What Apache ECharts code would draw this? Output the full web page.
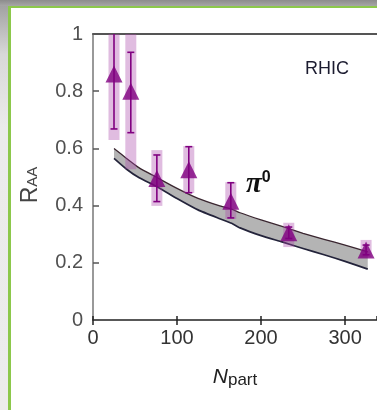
<!DOCTYPE html>
<html>
<head>
<meta charset="utf-8">
<script src="https://cdn.jsdelivr.net/npm/echarts@6/dist/echarts.min.js"></script>
<style>
  html, body { margin: 0; padding: 0; width: 377px; height: 410px; overflow: hidden; background: #ececec; }
  #topStrip { position: absolute; left: 0; top: 0; width: 377px; height: 6px; background: linear-gradient(#8c8c8c, #a6a6a6); }
  #sideStrip { position: absolute; left: 0; top: 6px; width: 8px; height: 404px; background: linear-gradient(#a2a2a2, #d8d8d8 12%, #ebebeb 30%, #ececec); }
  #frame { position: absolute; left: 8px; top: 6px; right: 0; bottom: 0; border-left: 3px solid #8cc84b; border-top: 2px solid #8cc84b; background: #fff; }
  #chart { position: absolute; left: 0; top: 0; width: 377px; height: 410px; }
</style>
</head>
<body>
<div id="topStrip"></div>
<div id="sideStrip"></div>
<div id="frame"></div>
<div id="chart"></div>
<script>
// theory band (upper / lower edge)
const bandN    = [25, 40, 55, 75, 100, 125, 150, 165, 175, 200, 225, 250, 275, 300, 327];
const bandLow  = [0.565, 0.527, 0.497, 0.468, 0.425, 0.385, 0.355, 0.338, 0.322, 0.295, 0.273, 0.25, 0.228, 0.205, 0.178];
const bandHigh = [0.600, 0.565, 0.532, 0.500, 0.460, 0.425, 0.400, 0.388, 0.375, 0.350, 0.327, 0.303, 0.282, 0.262, 0.238];

// pi0 measurements
const pionN    = [25, 45, 76, 114, 164, 233, 325];
const pionRaa  = [0.86, 0.80, 0.495, 0.525, 0.415, 0.305, 0.245];
const statLow  = [0.668, 0.655, 0.414, 0.445, 0.357, 0.285, 0.228];
const statHigh = [1.04, 0.936, 0.577, 0.606, 0.48, 0.325, 0.262];
const sysLow   = [0.629, 0.527, 0.399, 0.444, 0.353, 0.255, 0.22];
const sysHigh  = [1.04, 1.04, 0.594, 0.608, 0.482, 0.340, 0.28];

const purple = '#800080'
const font = 'Liberation Sans, Arial, sans-serif'

const chart = echarts.init(document.getElementById('chart'))

// clip a rect to the grid
function clipToGrid(rect, params) {
  return echarts.graphic.clipRectByRect(rect, {
    x: params.coordSys.x, y: params.coordSys.y,
    width: params.coordSys.width, height: params.coordSys.height
  })
}

const xCommon = { type: 'value', min: 0, max: 338, interval: 100 }

const option = {
  animation: false,
  grid: { left: 93, top: 34, right: 0, bottom: 90, outerBoundsMode: 'none', containLabel: false },
  xAxis: [
    {
      ...xCommon,
      position: 'bottom',
      name: '{n|N}{s|part}',
      nameLocation: 'middle',
      nameGap: 47,
      nameMoveOverlap: false,
      nameTextStyle: {
        rich: {
          n: { fontFamily: font, fontStyle: 'italic', fontSize: 21, color: '#222', padding: [0, 0, 6, 0] },
          s: { fontFamily: font, fontSize: 17, color: '#222' }
        }
      },
      axisLine: { show: true, onZero: false, lineStyle: { color: '#222', width: 1.5 } },
      axisTick: { show: true, inside: false, length: 5, lineStyle: { color: '#222', width: 1.5 } },
      axisLabel: { fontFamily: font, fontSize: 20, color: '#333', margin: 8, showMaxLabel: false },
      splitLine: { show: false }
    },
    {
      ...xCommon,
      position: 'top',
      axisLine: { show: true, onZero: false, lineStyle: { color: '#555', width: 2 } },
      axisTick: { show: false },
      axisLabel: { show: false },
      splitLine: { show: false }
    },
    {
      ...xCommon,
      position: 'bottom',
      offset: 0,
      axisLine: { show: false },
      axisTick: { show: true, inside: true, length: 4, lineStyle: { color: '#222', width: 1.5 } },
      axisLabel: { show: false },
      splitLine: { show: false }
    }
  ],
  yAxis: {
    type: 'value',
    min: 0, max: 1, interval: 0.2,
    name: '{r|R}{s|AA}',
    nameLocation: 'middle',
    nameGap: 46,
    nameMoveOverlap: false,
    nameTextStyle: {
      rich: {
        r: { fontFamily: font, fontSize: 23, color: '#444', padding: [0, 0, 5, 0] },
        s: { fontFamily: font, fontSize: 15, color: '#444', padding: [0, 16, 0, 0] }
      }
    },
    axisLine: { show: true, onZero: false, lineStyle: { color: '#777', width: 1.5 } },
    axisTick: { show: true, inside: true, length: 6, lineStyle: { color: '#555', width: 1.5 } },
    axisLabel: { fontFamily: font, fontSize: 20, color: '#505050', margin: 10 },
    splitLine: { show: false }
  },
  series: [
    {
      // theory band drawn as one polygon through the axis scales
      type: 'custom',
      data: [0],
      renderItem(params, api) {
        const upper = bandN.map((n, i) => api.coord([n, bandHigh[i]]))
        const lower = bandN.map((n, i) => api.coord([n, bandLow[i]]))
        return {
          type: 'group',
          children: [
            { type: 'polygon', shape: { points: upper.concat(lower.slice().reverse()) }, style: { fill: '#b4b4b4' } },
            { type: 'polyline', shape: { points: upper, smooth: 0.15 }, style: { stroke: '#3a2630', lineWidth: 1.3, fill: null } },
            { type: 'polyline', shape: { points: lower, smooth: 0.15 }, style: { stroke: '#23233a', lineWidth: 1.7, fill: null } }
          ]
        }
      },
      z: 2
    },
    {
      // systematic boxes
      type: 'custom',
      data: pionN.map((n, i) => [n, sysLow[i], sysHigh[i]]),
      renderItem(params, api) {
        const top = api.coord([api.value(0), api.value(2)])
        const bot = api.coord([api.value(0), api.value(1)])
        const rect = clipToGrid({ x: top[0] - 5.5, y: top[1], width: 11, height: bot[1] - top[1] }, params)
        return rect && { type: 'rect', shape: rect, style: { fill: 'rgba(170, 70, 170, 0.36)' } }
      },
      z: 3
    },
    {
      // statistical error bars
      type: 'custom',
      data: pionN.map((n, i) => [n, statLow[i], statHigh[i]]),
      renderItem(params, api) {
        const top = api.coord([api.value(0), api.value(2)])
        const bot = api.coord([api.value(0), api.value(1)])
        const yTop = Math.max(top[1], params.coordSys.y)
        const style = { stroke: purple, lineWidth: 1.6 }
        const children = [
          { type: 'line', shape: { x1: top[0], y1: yTop, x2: bot[0], y2: bot[1] }, style },
          { type: 'line', shape: { x1: bot[0] - 3.5, y1: bot[1], x2: bot[0] + 3.5, y2: bot[1] }, style }
        ]
        if (top[1] >= params.coordSys.y) {
          children.push({ type: 'line', shape: { x1: top[0] - 3.5, y1: top[1], x2: top[0] + 3.5, y2: top[1] }, style })
        }
        return { type: 'group', children }
      },
      z: 4
    },
    {
      type: 'scatter',
      data: pionN.map((n, i) => [n, pionRaa[i]]),
      symbol: 'triangle',
      symbolSize: 17,
      itemStyle: { color: purple },
      z: 5
    }
  ],
  graphic: [
    {
      type: 'text',
      left: 305, top: 60, z: 10,
      style: { text: 'RHIC', fontFamily: font, fontSize: 18, fill: '#1c1c30' }
    },
    {
      type: 'text',
      left: 246, top: 170, z: 10,
      style: {
        text: '{p|π}{z|0}',
        rich: {
          p: { fontFamily: 'Liberation Serif, serif', fontStyle: 'italic', fontWeight: 'bold', fontSize: 29, fill: '#111' },
          z: { fontFamily: font, fontWeight: 'bold', fontSize: 16, fill: '#111', padding: [0, 0, 14, 0] }
        }
      }
    }
  ]
}

chart.setOption(option)
</script>
</body>
</html>
